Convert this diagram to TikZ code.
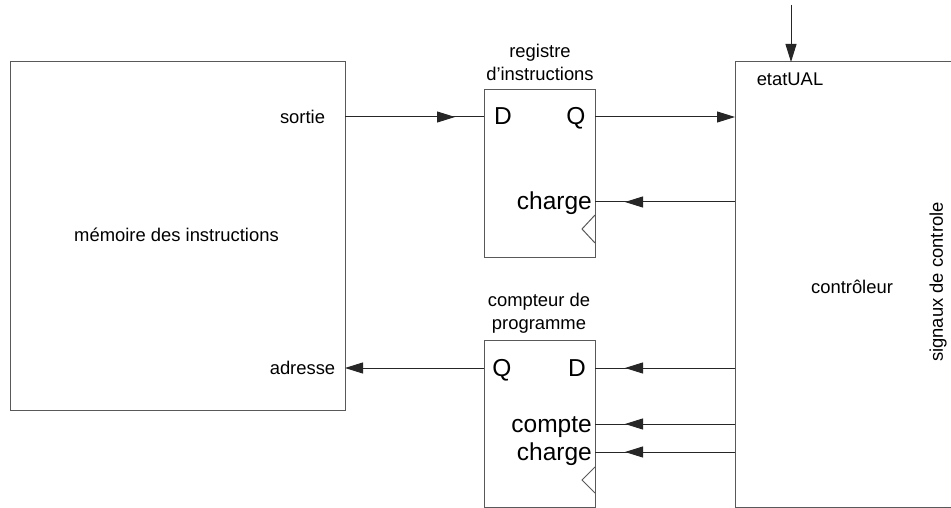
\documentclass[tikz,border=0pt]{standalone}
\usepackage{fontspec}
\setmainfont{Liberation Sans}
\usetikzlibrary{arrows.meta,decorations.markings,calc}
\begin{document}
\begin{tikzpicture}[x=1pt,y=-1pt,
  box/.style={draw=black!65, line width=1pt, inner sep=0pt, outer sep=0pt},
  small/.style={font=\fontsize{18.4}{23}\selectfont, inner sep=0pt},
  big/.style={font=\fontsize{24.5}{28}\selectfont, inner sep=0pt},
  wire/.style={draw=black!85, line width=1pt},
  tipend/.style={-{Triangle[length=18pt,width=11pt]}},
  midtip/.style={postaction={decorate},decoration={markings,mark=at position 110pt with {\arrow{Triangle[length=18pt,width=11pt]}}}},
  clockline/.style={draw=black!65, line width=1pt}]
\clip (0,0) rectangle (951,508);
\fill[white] (0,0) rectangle (951,508);
% memory
\node[box, minimum width=335pt, minimum height=348pt] (mem) at (177.5,236) {};
\node[small] (memlabel) at (176.5,235) {mémoire des instructions};
\node[small] (sortie) at (302.5,117) {sortie};
\node[small] (adresse) at (302.5,368) {adresse};
% instruction register
\node[box, minimum width=111pt, minimum height=167pt] (reg) at (539.5,173.5) {};
\node[small, align=center] (regtitle) at (540,62) {registre\\d’instructions};
\node[big, anchor=base] (regD) at (503,125) {D};
\node[big, anchor=base] (regQ) at (576,125) {Q};
\node[big, anchor=base east] (regcharge) at (592,210) {charge};
\draw[clockline] (595,215) -- (582,229) -- (595,243);
% program counter
\node[box, minimum width=111pt, minimum height=167pt] (pc) at (539.5,423.5) {};
\node[small, align=center] (pctitle) at (539,313.5) {compteur de\\programme};
\node[big, anchor=base] (pcQ) at (502,376) {Q};
\node[big, anchor=base] (pcD) at (577,376) {D};
\node[big, anchor=base east] (pccompte) at (592,432) {compte};
\node[big, anchor=base east] (pccharge) at (592,460) {charge};
\draw[clockline] (595,467) -- (582,480) -- (595,493);
% controller
\node[box, minimum width=225pt, minimum height=445pt, anchor=north west] (ctl) at (735,62) {};
\node[small] (etat) at (790,79) {etatUAL};
\node[small] (ctllabel) at (852,287) {contrôleur};
\node[small, rotate=90] (sig) at (938,282) {signaux de controle};
\coordinate (topin) at (791,5);
% wire levels
\coordinate (lvS) at ([yshift=8pt]regD.base);
\coordinate (lvRC) at ([yshift=8pt]regcharge.base east);
\coordinate (lvA) at ([yshift=8pt]pcQ.base);
\coordinate (lvCo) at ([yshift=8pt]pccompte.base east);
\coordinate (lvCh) at ([yshift=8pt]pccharge.base east);
% wires
\draw[wire,tipend] (topin) -- (topin |- ctl.north);
\draw[wire,midtip] (mem.east |- lvS) -- (reg.west |- lvS);
\draw[wire,tipend] (reg.east |- lvS) -- (ctl.west |- lvS);
\draw[wire,midtip] (ctl.west |- lvRC) -- (reg.east |- lvRC);
\draw[wire,tipend] (pc.west |- lvA) -- (mem.east |- lvA);
\draw[wire,midtip] (ctl.west |- lvA) -- (pc.east |- lvA);
\draw[wire,midtip] (ctl.west |- lvCo) -- (pc.east |- lvCo);
\draw[wire,midtip] (ctl.west |- lvCh) -- (pc.east |- lvCh);
\end{tikzpicture}
\end{document}
